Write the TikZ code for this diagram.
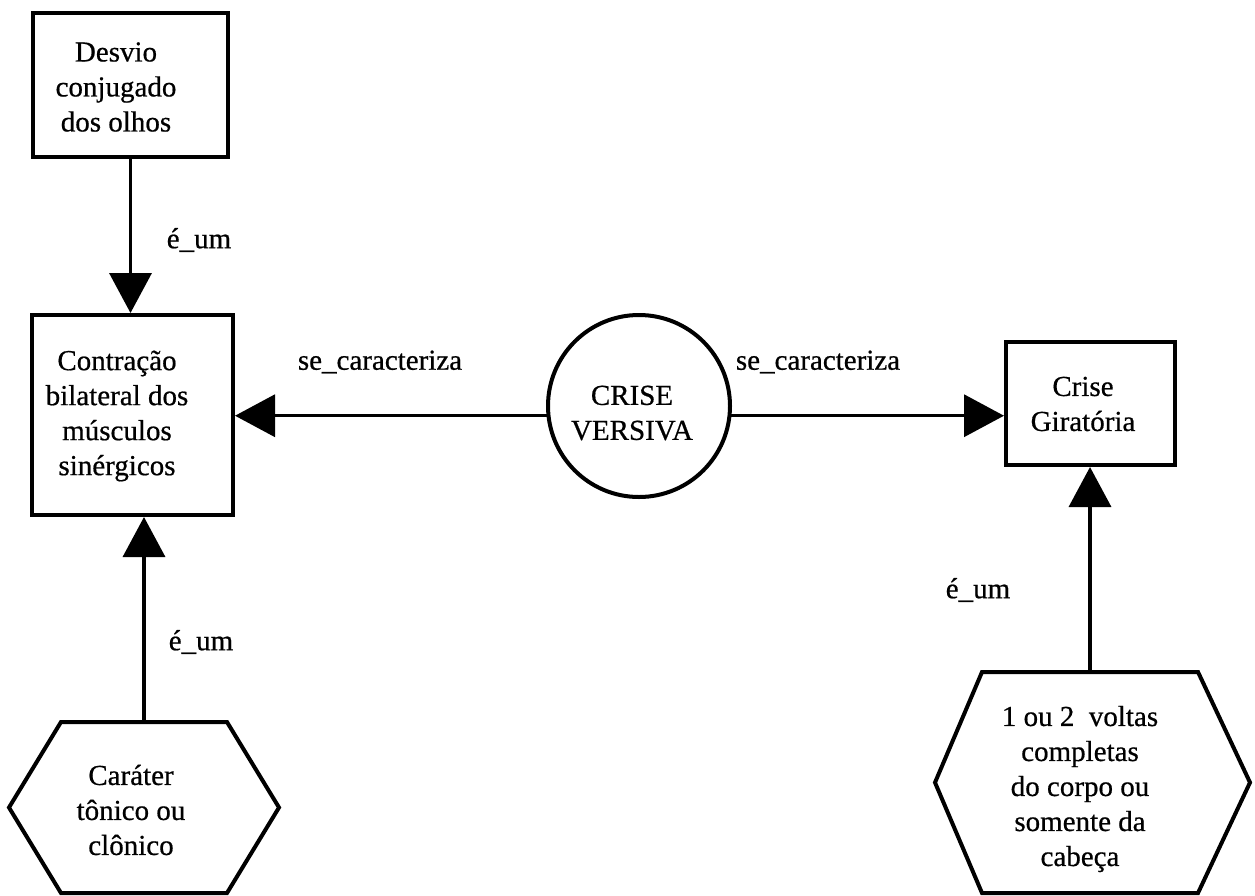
\documentclass[tikz,border=0pt]{standalone}
\usepackage{fontspec}
\setmainfont{Liberation Serif}[FakeBold=0.6]
\usetikzlibrary{arrows.meta}
\begin{document}
\begin{tikzpicture}[x=1pt,y=-1pt,
  every node/.style={font=\fontsize{29}{35}\selectfont},
  boxshape/.style={draw, line width=4pt, rectangle, inner sep=0pt},
  hexframe/.style={draw=none, rectangle, inner sep=0pt, outer sep=0pt},
  hexline/.style={line width=4pt, line join=miter},
  txt/.style={align=center, inner sep=0pt},
  conn/.style={line width=3.5pt, -{Triangle[length=40pt,width=42pt]}},
  rel/.style={inner sep=0pt}
]
\useasboundingbox (0,0) rectangle (1255,895);

% concept boxes
\node[boxshape, minimum width=195pt, minimum height=144pt] (desvio) at (130.5,85) {};
\node[txt] (desvioT) at (116,87) {Desvio\\conjugado\\dos olhos};

\node[boxshape, minimum width=201pt, minimum height=200pt] (contr) at (132.5,415) {};
\node[txt] (contrT) at (117,416) {Contração\\bilateral dos\\músculos\\sinérgicos};

\node[boxshape, minimum width=169pt, minimum height=123pt] (gir) at (1090.5,403.5) {};
\node[txt] (girT) at (1083,404) {Crise\\Giratória};

% central concept
\node[draw, circle, line width=4pt, minimum size=182pt, inner sep=0pt] (versiva) at (639,406) {};
\node[txt] (versivaT) at (632,413) {CRISE\\VERSIVA};

% hexagonal attribute nodes
\node[hexframe, minimum width=166pt, minimum height=171pt] (carater) at (144,807.5) {};
\draw[hexline] (carater.north west) -- (carater.north east) -- ([xshift=52pt]carater.east)
  -- (carater.south east) -- (carater.south west) -- ([xshift=-52pt]carater.west) -- cycle;
\node[txt] (caraterT) at (131,810) {Caráter\\tônico ou\\clônico};

\node[hexframe, minimum width=216pt, minimum height=221pt] (voltas) at (1090,782.5) {};
\draw[hexline] (voltas.north west) -- (voltas.north east) -- ([xshift=52pt]voltas.east)
  -- (voltas.south east) -- (voltas.south west) -- ([xshift=-47pt]voltas.west) -- cycle;
\node[txt] (voltasT) at (1080,789) {1 ou 2 \ voltas\\completas\\do corpo ou\\somente da\\cabeça};

% relations
\draw[conn] (desvio.south) -- (desvio.south |- contr.north);
\draw[conn] (carater.north) -- (carater.north |- contr.south);
\draw[conn] (versiva.186) -- (versiva.186 -| contr.east);
\draw[conn] (versiva.-6) -- (versiva.-6 -| gir.west);
\draw[conn] (voltas.north) -- (voltas.north |- gir.south);

% relation labels
\node[rel] (l1) at (199,240) {é\_um};
\node[rel] (l2) at (201,642) {é\_um};
\node[rel] (l3) at (978,590) {é\_um};
\node[rel] (l4) at (380,362) {se\_caracteriza};
\node[rel] (l5) at (818,362) {se\_caracteriza};
\end{tikzpicture}
\end{document}
